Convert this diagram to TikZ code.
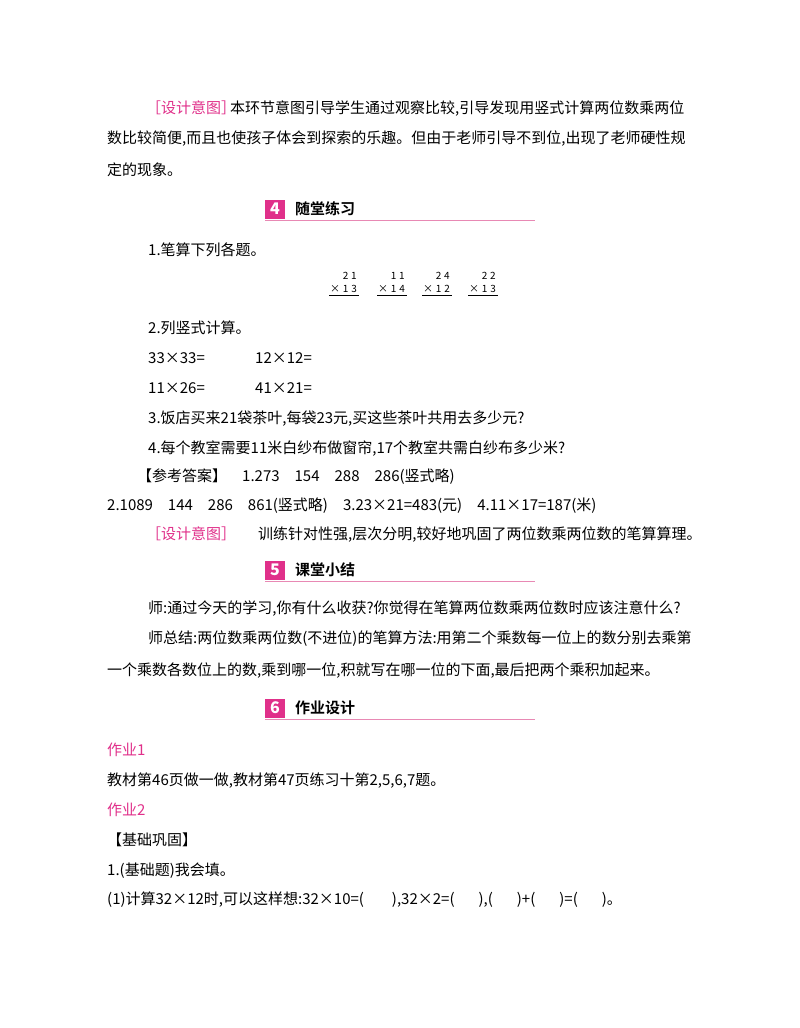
\documentclass[tikz,border=0pt]{standalone}
\usepackage{fontspec}
\setmainfont{Noto Sans CJK SC}
\newfontfamily\cjkb{Noto Sans CJK SC Bold}
\definecolor{pk}{HTML}{E0308A}
\definecolor{pkl}{HTML}{E889B4}
\begin{document}
\begin{tikzpicture}[x=1pt,y=-1pt,
  t/.style={anchor=base west,inner sep=0pt,font=\fontsize{15}{16}\selectfont},
  p/.style={t,text=pk},
  badge/.style={fill=pk,minimum width=20pt,minimum height=19pt,inner sep=0pt,text=white,font=\bfseries\itshape\fontsize{16}{16}\selectfont},
  hd/.style={anchor=west,inner sep=0pt,font=\cjkb\fontsize{15}{16}\selectfont},
  m/.style={anchor=base east,inner sep=0pt,font=\fontsize{10}{10}\selectfont}]
\useasboundingbox (0,0) rectangle (800,1028);
\node[p] (a1) at (146,113) {［设计意图］};
\node[t] (a2) at (230,113) {本环节意图引导学生通过观察比较,引导发现用竖式计算两位数乘两位};
\node[t] (a3) at (107,143) {数比较简便,而且也使孩子体会到探索的乐趣。但由于老师引导不到位,出现了老师硬性规};
\node[t] (a4) at (107,175) {定的现象。};
% header 4
\node[badge] (b4) at (275,209) {4};
\node[hd] (h4) at (295,209) {随堂练习};
\draw[pkl,line width=0.8pt] (265,220) -- (535,220);
\node[t] (q1) at (148,255) {1.笔算下列各题。};
\foreach \xx/\aa/\bb [count=\i] in {357/2\;1/1\;3,405/1\;1/1\;4,450/2\;4/1\;2,496/2\;2/1\;3}{
  \node[m] (u\i) at (\xx,279) {\aa};
  \node[m] (v\i) at (\xx,292) {×\;\bb};
  \draw[line width=0.6pt] (\xx-28,295) -- (\xx+2,295);
}
\node[t] (q2) at (148,333) {2.列竖式计算。};
\node[t] (c1) at (148,363) {33×33=};
\node[t] (c2) at (255,363) {12×12=};
\node[t] (c3) at (148,393) {11×26=};
\node[t] (c4) at (255,393) {41×21=};
\node[t] (q3) at (148,423) {3.饭店买来21袋茶叶,每袋23元,买这些茶叶共用去多少元?};
\node[t] (q4) at (148,453) {4.每个教室需要11米白纱布做窗帘,17个教室共需白纱布多少米?};
\node[t] (r1) at (137,481) {【参考答案】\quad 1.273\quad 154\quad 288\quad 286(竖式略)};
\node[t] (r2) at (107,510) {2.1089\quad 144\quad 286\quad 861(竖式略)\quad 3.23×21=483(元)\quad 4.11×17=187(米)};
\node[p] (d1) at (146,539) {［设计意图］};
\node[t] (d2) at (258,539) {训练针对性强,层次分明,较好地巩固了两位数乘两位数的笔算算理。};
% header 5
\node[badge] (b5) at (275,570) {5};
\node[hd] (h5) at (295,570) {课堂小结};
\draw[pkl,line width=0.8pt] (265,581) -- (535,581);
\node[t] (s1) at (148,613) {师:通过今天的学习,你有什么收获?你觉得在笔算两位数乘两位数时应该注意什么?};
\node[t] (s2) at (148,643) {师总结:两位数乘两位数(不进位)的笔算方法:用第二个乘数每一位上的数分别去乘第};
\node[t] (s3) at (107,675) {一个乘数各数位上的数,乘到哪一位,积就写在哪一位的下面,最后把两个乘积加起来。};
% header 6
\node[badge] (b6) at (275,708) {6};
\node[hd] (h6) at (295,708) {作业设计};
\draw[pkl,line width=0.8pt] (265,719) -- (535,719);
\node[p] (w1) at (107,755) {作业1};
\node[t] (w2) at (107,785) {教材第46页做一做,教材第47页练习十第2,5,6,7题。};
\node[p] (w3) at (107,815) {作业2};
\node[t] (w4) at (107,845) {【基础巩固】};
\node[t] (w5) at (107,875) {1.(基础题)我会填。};
\node[t] (w6) at (107,904) {(1)计算32×12时,可以这样想:32×10=(\hspace{28pt}),32×2=(\hspace{24pt}),(\hspace{24pt})+(\hspace{24pt})=(\hspace{24pt})。};
\end{tikzpicture}
\end{document}
